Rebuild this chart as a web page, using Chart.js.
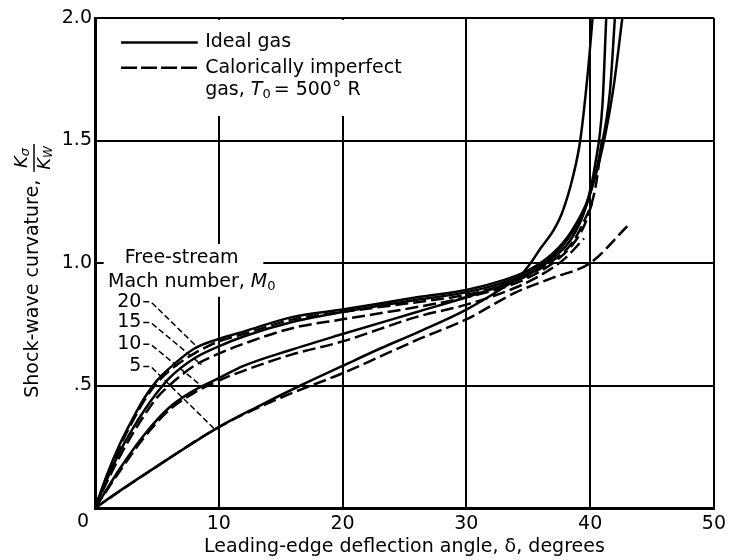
<!DOCTYPE html>
<html>
<head>
<meta charset="utf-8">
<script src="https://cdn.jsdelivr.net/npm/chart.js@4.4.1/dist/chart.umd.min.js"></script>
<style>
  html, body { margin: 0; padding: 0; background: #fff; }
  canvas { display: block; }
</style>
</head>
<body>
<canvas id="chart" width="731" height="560"></canvas>
<script>
const xTicks = [0, 10, 20, 30, 40, 50];
const yTicks = [0, 0.5, 1.0, 1.5, 2.0];
const machLabels = ["20", "15", "10", "5"];

// ideal gas (solid) - [deflection angle deg, K_sigma / K_W]
const ideal5 = [[0,0],[2,0.07],[5,0.17],[10,0.33],[13,0.41],[16.6,0.5],[20,0.58],[23,0.65],[26.2,0.72],[30,0.81],[33,0.9],[34.4,0.95],[35.2,1.0],[36,1.06],[37,1.13],[37.7,1.2],[38.6,1.35],[39.2,1.5],[39.8,1.77],[40.2,2.0]];
const ideal10 = [[0,0],[1,0.08],[2,0.16],[4,0.3],[6,0.41],[8,0.48],[10,0.53],[12,0.58],[15.8,0.645],[20,0.71],[26,0.8],[30,0.86],[33,0.91],[35,0.95],[37,1.02],[38.5,1.1],[39.6,1.22],[40.4,1.4],[41,1.65],[41.3,2.0]];
const ideal15 = [[0,0],[1,0.12],[2,0.23],[3,0.32],[4,0.4],[5,0.47],[6,0.53],[8,0.61],[10,0.66],[12,0.7],[16,0.76],[20,0.8],[26,0.85],[30,0.88],[33,0.92],[35,0.96],[37,1.03],[38.5,1.12],[39.8,1.25],[40.8,1.45],[41.6,1.7],[42.0,2.0]];
const ideal20 = [[0,0],[1,0.14],[2,0.26],[3,0.36],[4,0.45],[5,0.52],[6,0.57],[8,0.65],[10,0.69],[12,0.72],[16,0.78],[20,0.81],[26,0.86],[30,0.89],[33,0.93],[35,0.97],[37,1.04],[38.5,1.13],[39.9,1.27],[41.0,1.47],[41.9,1.72],[42.6,2.0]];

// calorically imperfect gas, T0 = 500 R (dashed)
const imperfect5 = [[0,0],[5,0.17],[10,0.33],[15,0.45],[20,0.55],[26.2,0.69],[30,0.77],[34,0.88],[37,0.94],[40,1.0],[43,1.15]];
const imperfect10 = [[0,0],[2,0.15],[4,0.29],[6,0.4],[8,0.47],[10,0.52],[12,0.56],[15.8,0.625],[20,0.68],[26,0.78],[30,0.83],[34,0.9],[36,0.95],[38,1.02],[39.5,1.1]];
const imperfect15 = [[0,0],[1,0.11],[2,0.21],[3,0.3],[4,0.38],[5,0.45],[6,0.5],[8,0.58],[10,0.63],[12,0.67],[16,0.735],[20,0.77],[26,0.82],[30,0.86],[33,0.9],[35,0.94],[37,1.0],[38.5,1.07],[39.5,1.15],[40.2,1.25]];
const imperfect20 = [[0,0],[1,0.13],[2,0.25],[3,0.35],[4,0.44],[5,0.51],[6,0.56],[8,0.63],[10,0.68],[12,0.71],[16,0.77],[20,0.8],[26,0.84],[30,0.87],[33,0.91],[35,0.95],[37,1.01],[38.5,1.08],[39.5,1.17],[40.4,1.3],[41.0,1.52]];

// leader lines from the Mach number labels to the curves
const leader20 = [[3.9,0.842],[4.5,0.842],[8.3,0.655]];
const leader15 = [[3.9,0.757],[4.5,0.757],[8.6,0.585]];
const leader10 = [[3.9,0.668],[4.5,0.668],[8.8,0.49]];
const leader5 = [[3.9,0.578],[4.5,0.578],[9.7,0.32]];

const pts = arr => arr.map(p => ({x: p[0], y: p[1]}));
const FONT = "DejaVu Sans";

function curve(arr, dashed) {
  return {
    data: pts(arr),
    borderColor: "#000",
    borderWidth: 2.5,
    borderDash: dashed ? [13, 5] : [],
    cubicInterpolationMode: "monotone",
    pointRadius: 0,
    fill: false
  };
}
function leader(arr) {
  return {
    data: pts(arr),
    borderColor: "#000",
    borderWidth: 1.5,
    borderDash: [6, 3],
    tension: 0,
    pointRadius: 0,
    fill: false
  };
}

// draw a row of text pieces with different fonts / offsets
function drawRuns(ctx, x, y, runs) {
  let cx = x;
  for (const r of runs) {
    ctx.font = r.f;
    ctx.fillText(r.t, cx, y + (r.dy || 0));
    cx += ctx.measureText(r.t).width + (r.gap || 0);
  }
}
function runsWidth(ctx, runs) {
  let w = 0;
  for (const r of runs) { ctx.font = r.f; w += ctx.measureText(r.t).width + (r.gap || 0); }
  return w;
}

const annotations = {
  id: "annotations",
  beforeDatasetsDraw(chart) {
    const {ctx, scales: {x, y}} = chart;
    ctx.save();
    ctx.fillStyle = "#fff";
    // legend box and Mach number label box hide the grid
    const boxes = [[0.25, 26.5, 1.992, 1.6], [0.7, 13.6, 1.078, 0.862]];
    for (const b of boxes) {
      const x0 = x.getPixelForValue(b[0]), x1 = x.getPixelForValue(b[1]);
      const y0 = y.getPixelForValue(b[2]), y1 = y.getPixelForValue(b[3]);
      ctx.fillRect(x0, y0, x1 - x0, y1 - y0);
    }
    ctx.restore();
  },
  afterDraw(chart) {
    const {ctx, scales: {x, y}, chartArea} = chart;
    ctx.save();
    ctx.fillStyle = "#000";
    ctx.strokeStyle = "#000";
    ctx.textBaseline = "middle";

    // legend
    const lx0 = x.getPixelForValue(2.1), lx1 = x.getPixelForValue(8.3);
    const ly1 = y.getPixelForValue(1.9), ly2 = y.getPixelForValue(1.797), ly3 = y.getPixelForValue(1.707);
    ctx.lineWidth = 2.5;
    ctx.beginPath(); ctx.moveTo(lx0, ly1); ctx.lineTo(lx1, ly1); ctx.stroke();
    ctx.setLineDash([16, 4]);
    ctx.beginPath(); ctx.moveTo(lx0, ly2); ctx.lineTo(lx1, ly2); ctx.stroke();
    ctx.setLineDash([]);
    const tx = x.getPixelForValue(8.9);
    ctx.textAlign = "left";
    ctx.font = `19px ${FONT}`;
    ctx.fillText("Ideal gas", tx, ly1);
    ctx.fillText("Calorically imperfect", tx, ly2);
    drawRuns(ctx, tx, ly3, [
      {t: "gas, ", f: `19px ${FONT}`},
      {t: "T", f: `italic 19px ${FONT}`},
      {t: "0", f: `13px ${FONT}`, dy: 5, gap: 3},
      {t: "= 500° R", f: `19px ${FONT}`}
    ]);

    // Mach number labels
    ctx.textAlign = "center";
    ctx.font = `19px ${FONT}`;
    ctx.fillText("Free-stream", x.getPixelForValue(7.0), y.getPixelForValue(1.02));
    ctx.textAlign = "left";
    drawRuns(ctx, x.getPixelForValue(1.05), y.getPixelForValue(0.923), [
      {t: "Mach number, ", f: `19px ${FONT}`},
      {t: "M", f: `italic 19px ${FONT}`},
      {t: "0", f: `13px ${FONT}`, dy: 5}
    ]);
    ctx.textAlign = "right";
    ctx.font = `19px ${FONT}`;
    const labelY = [0.842, 0.757, 0.668, 0.578];
    machLabels.forEach((m, i) => ctx.fillText(m, x.getPixelForValue(3.75), y.getPixelForValue(labelY[i])));

    // origin label
    ctx.textAlign = "center";
    ctx.font = `19px ${FONT}`;
    ctx.fillText("0", x.getPixelForValue(0) - 12, chartArea.bottom + 14);

    // x axis title
    ctx.font = `19px ${FONT}`;
    ctx.fillText("Leading-edge deflection angle, δ, degrees", (chartArea.left + chartArea.right) / 2, 547);

    // y axis title, rotated, with K_sigma / K_W fraction
    ctx.translate(33, y.getPixelForValue(0.45));
    ctx.rotate(-Math.PI / 2);
    ctx.textAlign = "left";
    ctx.font = `19px ${FONT}`;
    const main = "Shock-wave curvature,";
    ctx.fillText(main, 0, 0);
    const fx = ctx.measureText(main).width + 8;
    const num = [{t: "K", f: `italic 18px ${FONT}`}, {t: "σ", f: `italic 13px ${FONT}`, dy: 4}];
    const den = [{t: "K", f: `italic 18px ${FONT}`}, {t: "W", f: `italic 12px ${FONT}`, dy: 4}];
    const wn = runsWidth(ctx, num), wd = runsWidth(ctx, den);
    const fw = Math.max(wn, wd) + 4;
    drawRuns(ctx, fx + (fw - wn) / 2, -11, num);
    drawRuns(ctx, fx + (fw - wd) / 2, 12, den);
    ctx.lineWidth = 1.5;
    ctx.beginPath(); ctx.moveTo(fx, 1); ctx.lineTo(fx + fw, 1); ctx.stroke();
    ctx.restore();
  }
};

new Chart(document.getElementById("chart"), {
  type: "line",
  data: {
    datasets: [
      curve(ideal5, false), curve(ideal10, false), curve(ideal15, false), curve(ideal20, false),
      curve(imperfect5, true), curve(imperfect10, true), curve(imperfect15, true), curve(imperfect20, true),
      leader(leader20), leader(leader15), leader(leader10), leader(leader5)
    ]
  },
  options: {
    responsive: false,
    animation: false,
    devicePixelRatio: 1,
    layout: {padding: {left: 0, top: 18, right: 15, bottom: 0}},
    plugins: {legend: {display: false}, tooltip: {enabled: false}},
    scales: {
      x: {
        type: "linear",
        min: 0, max: 50,
        afterBuildTicks: s => { s.ticks = xTicks.map(v => ({value: v})); },
        afterFit: s => { s.height = 52; },
        grid: {color: "#000", lineWidth: 2, drawTicks: false},
        border: {color: "#000", width: 3},
        ticks: {color: "#000", font: {family: FONT, size: 19}, padding: 5,
                callback: v => v === 0 ? "" : String(v)}
      },
      y: {
        type: "linear",
        min: 0, max: 2,
        afterBuildTicks: s => { s.ticks = yTicks.map(v => ({value: v})); },
        afterFit: s => { s.width = 95; },
        grid: {color: "#000", lineWidth: 2, drawTicks: false},
        border: {color: "#000", width: 3},
        ticks: {color: "#000", font: {family: FONT, size: 19}, padding: 3,
                callback: v => v === 0 ? "" : (v === 0.5 ? ".5" : v.toFixed(1))}
      }
    }
  },
  plugins: [annotations]
});
</script>
</body>
</html>
